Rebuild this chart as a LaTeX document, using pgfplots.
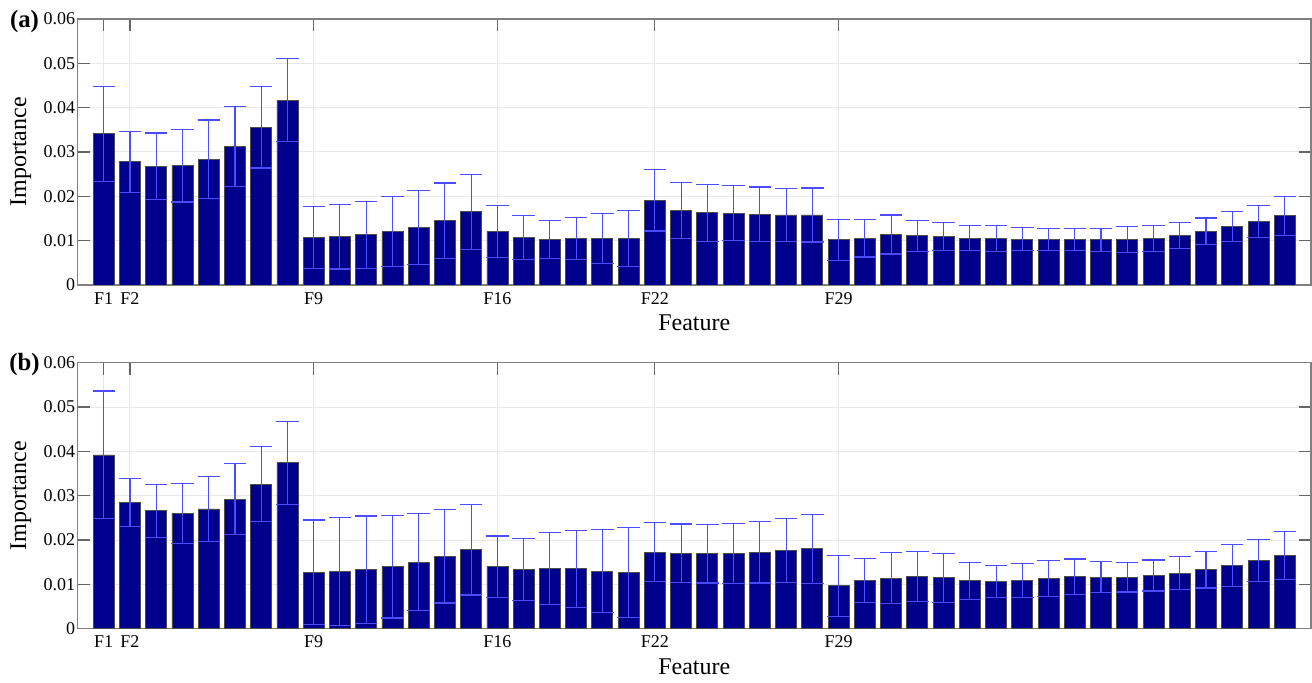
\documentclass[border=0pt]{standalone}
\usepackage{fontspec}
\setmainfont{Liberation Serif}
\usepackage{pgfplots}
\usepackage{pgfplotstable}
\pgfplotsset{compat=1.18}
\definecolor{barnavy}{RGB}{0,0,140}
\definecolor{errlight}{RGB}{75,75,255}

\pgfplotstableread{
x y e
1 0.0341 0.0107
2 0.0278 0.0069
3 0.0268 0.0075
4 0.0269 0.0082
5 0.0284 0.0088
6 0.0312 0.0090
7 0.0356 0.0092
8 0.0417 0.0094
9 0.0107 0.0070
10 0.0109 0.0073
11 0.0113 0.0076
12 0.0120 0.0079
13 0.0130 0.0083
14 0.0145 0.0085
15 0.0165 0.0085
16 0.0121 0.0059
17 0.0107 0.0050
18 0.0102 0.0043
19 0.0105 0.0048
20 0.0105 0.0056
21 0.0105 0.0063
22 0.0191 0.0069
23 0.0168 0.0064
24 0.0163 0.0064
25 0.0162 0.0062
26 0.0160 0.0061
27 0.0158 0.0060
28 0.0158 0.0061
29 0.0102 0.0046
30 0.0105 0.0042
31 0.0114 0.0044
32 0.0111 0.0035
33 0.0109 0.0032
34 0.0106 0.0029
35 0.0105 0.0029
36 0.0103 0.0026
37 0.0103 0.0025
38 0.0103 0.0025
39 0.0102 0.0026
40 0.0103 0.0029
41 0.0105 0.0029
42 0.0112 0.0029
43 0.0121 0.0030
44 0.0132 0.0034
45 0.0143 0.0036
46 0.0156 0.0044
}\dataA

\pgfplotstableread{
x y e
1 0.0392 0.0144
2 0.0285 0.0054
3 0.0266 0.0060
4 0.0260 0.0068
5 0.0270 0.0074
6 0.0292 0.0080
7 0.0326 0.0085
8 0.0374 0.0093
9 0.0127 0.0118
10 0.0129 0.0121
11 0.0133 0.0121
12 0.0140 0.0116
13 0.0150 0.0109
14 0.0163 0.0105
15 0.0178 0.0102
16 0.0140 0.0069
17 0.0134 0.0070
18 0.0136 0.0081
19 0.0135 0.0087
20 0.0130 0.0094
21 0.0127 0.0102
22 0.0173 0.0067
23 0.0170 0.0066
24 0.0169 0.0066
25 0.0170 0.0068
26 0.0172 0.0069
27 0.0176 0.0072
28 0.0180 0.0078
29 0.0097 0.0069
30 0.0109 0.0049
31 0.0114 0.0057
32 0.0118 0.0057
33 0.0115 0.0055
34 0.0108 0.0042
35 0.0107 0.0036
36 0.0109 0.0038
37 0.0113 0.0041
38 0.0117 0.0040
39 0.0116 0.0035
40 0.0116 0.0033
41 0.0120 0.0035
42 0.0125 0.0037
43 0.0133 0.0041
44 0.0143 0.0047
45 0.0154 0.0048
46 0.0165 0.0054
}\dataB

\pgfplotsset{myax/.style={
  scale only axis, width=616.75pt, height=133pt,
  anchor=south west,
  xmin=0, xmax=47, ymin=0, ymax=0.06,
  scaled y ticks=false,
  xtick={1,2,9,16,22,29}, xticklabels={F1,F2,F9,F16,F22,F29},
  ytick={0,0.01,0.02,0.03,0.04,0.05,0.06},
  yticklabels={0,0.01,0.02,0.03,0.04,0.05,0.06},
  tick align=inside, tick pos=both, major tick length=6pt,
  xmajorgrids, ymajorgrids, grid style={black!9, line width=0.5pt},
  axis line style={black!50, line width=0.7pt},
  tick style={black!60, line width=0.6pt},
  tick label style={font=\fontsize{9}{10}\selectfont},
  yticklabel style={inner sep=1pt},
  xticklabel style={inner sep=2pt, anchor=north, text height=1.6ex, text depth=0.2ex},
  xlabel=Feature, ylabel=Importance,
  label style={font=\fontsize{12}{14}\selectfont},
  xlabel style={at={(axis description cs:0.5,-0.143)}, anchor=center},
  ylabel style={at={(axis description cs:-0.046,0.5)}, anchor=center},
  barstyle/.style={ybar, bar width=0.8, fill=barnavy, draw=black!70, line width=0.4pt},
  errstyle/.style={draw=none, no markers,
    error bars/.cd, y dir=both, y explicit,
    error bar style={draw=errlight, line width=0.55pt},
    error mark options={rotate=90, draw=errlight, mark size=5.6pt, line width=0.6pt}},
}}

\begin{document}
\begin{tikzpicture}
\useasboundingbox (0,0) rectangle (656pt,-341.5pt);
\begin{axis}[myax, at={(38.75pt,-142.5pt)}]
\addplot[barstyle] table[x=x, y=y]{\dataA};
\addplot[errstyle] table[x=x, y=y, y error=e]{\dataA};
\end{axis}
\begin{axis}[myax, at={(38.75pt,-314.35pt)}]
\addplot[barstyle] table[x=x, y=y]{\dataB};
\addplot[errstyle] table[x=x, y=y, y error=e]{\dataB};
\end{axis}
\node[font=\bfseries\fontsize{12.4}{14}\selectfont] at (12.25pt,-10.8pt) {(a)};
\node[font=\bfseries\fontsize{12.4}{14}\selectfont] at (12.25pt,-182.5pt) {(b)};
\end{tikzpicture}
\end{document}
